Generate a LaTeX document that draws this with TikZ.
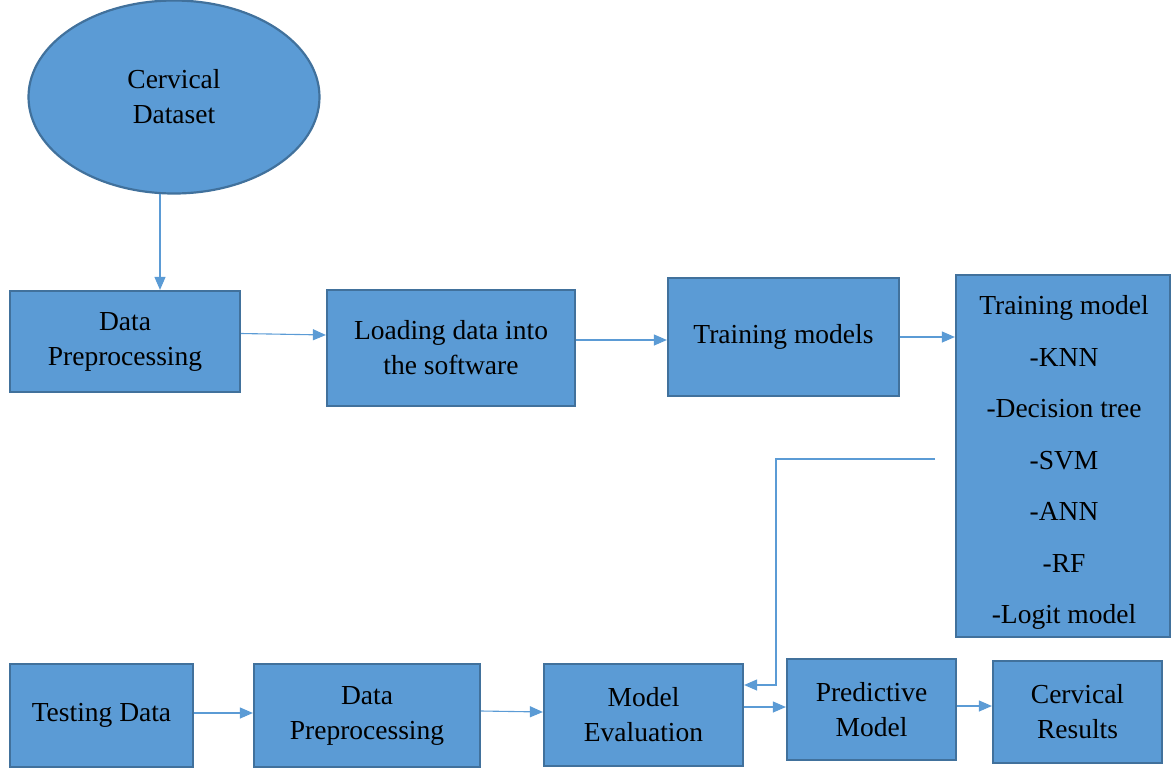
\documentclass[tikz,border=0pt]{standalone}
\usepackage{fontspec}
\setmainfont{Liberation Serif}
\usetikzlibrary{arrows.meta,shapes.geometric}
\definecolor{boxfill}{HTML}{5B9BD5}
\definecolor{boxline}{HTML}{41719C}
\definecolor{arrcol}{HTML}{5B9BD5}
\begin{document}
\begin{tikzpicture}[x=1pt,y=-1pt,
  blk/.style={draw=boxline,fill=boxfill,line width=2.2pt,rectangle,inner sep=0pt,align=center,
    font=\fontsize{27.5}{35}\selectfont},
  arr/.style={draw=arrcol,line width=1.1pt,-{Triangle[length=13pt,width=11pt]}},
]
\useasboundingbox (0,0) rectangle (1176,772);
\node[blk,ellipse,minimum width=291pt,minimum height=193pt] (ell) at (174,97) {Cervical\\Dataset};
\node[blk,minimum width=230pt,minimum height=101pt] (dp1) at (125,341.5) {Data\\Preprocessing};
\node[blk,minimum width=248pt,minimum height=116pt] (load) at (451,348) {Loading data into\\the software};
\node[blk,minimum width=231pt,minimum height=118pt] (train) at (783.5,337) {Training models};
\node[blk,minimum width=214pt,minimum height=362pt] (tm) at (1063,456) {};
\node[align=center,inner sep=0pt,font=\fontsize{27.5}{51.5}\selectfont] (tmtxt) at (1064,462.5)
  {Training model\\-KNN\\-Decision tree\\-SVM\\-ANN\\-RF\\-Logit model};
\node[blk,minimum width=183pt,minimum height=103pt] (test) at (101.5,715.5) {Testing Data};
\node[blk,minimum width=226pt,minimum height=103pt] (dp2) at (367,715.5) {Data\\Preprocessing};
\node[blk,minimum width=199pt,minimum height=102pt] (eval) at (643.5,715) {Model\\Evaluation};
\node[blk,minimum width=169pt,minimum height=101pt] (pred) at (871.5,709.5) {Predictive\\Model};
\node[blk,minimum width=169pt,minimum height=102pt] (res) at (1077.5,712) {Cervical\\Results};

\coordinate (e1) at (160,194);
\draw[arr] (e1) -- (e1 |- dp1.north);
\draw[arr] ([yshift=8pt]dp1.east) -- ([yshift=13pt]load.west);
\draw[arr] ([yshift=8pt]load.east) -- ([yshift=8pt]load.east -| train.west);
\draw[arr] (train.east) -- ([yshift=119pt]tm.west);
\coordinate (fb) at (935,459);
\coordinate (fbk) at (776,459);
\draw[arr] (fb) -- (fbk) |- ([yshift=30pt]eval.east);
\draw[arr] ([yshift=2.5pt]test.east) -- ([yshift=2.5pt]test.east -| dp2.west);
\draw[arr] ([yshift=4.5pt]dp2.east) -- ([yshift=3pt]eval.west);
\draw[arr] ([yshift=8pt]eval.east) -- ([yshift=8pt]eval.east -| pred.west);
\draw[arr] ([yshift=3.5pt]pred.east) -- ([yshift=3.5pt]pred.east -| res.west);
\end{tikzpicture}
\end{document}
